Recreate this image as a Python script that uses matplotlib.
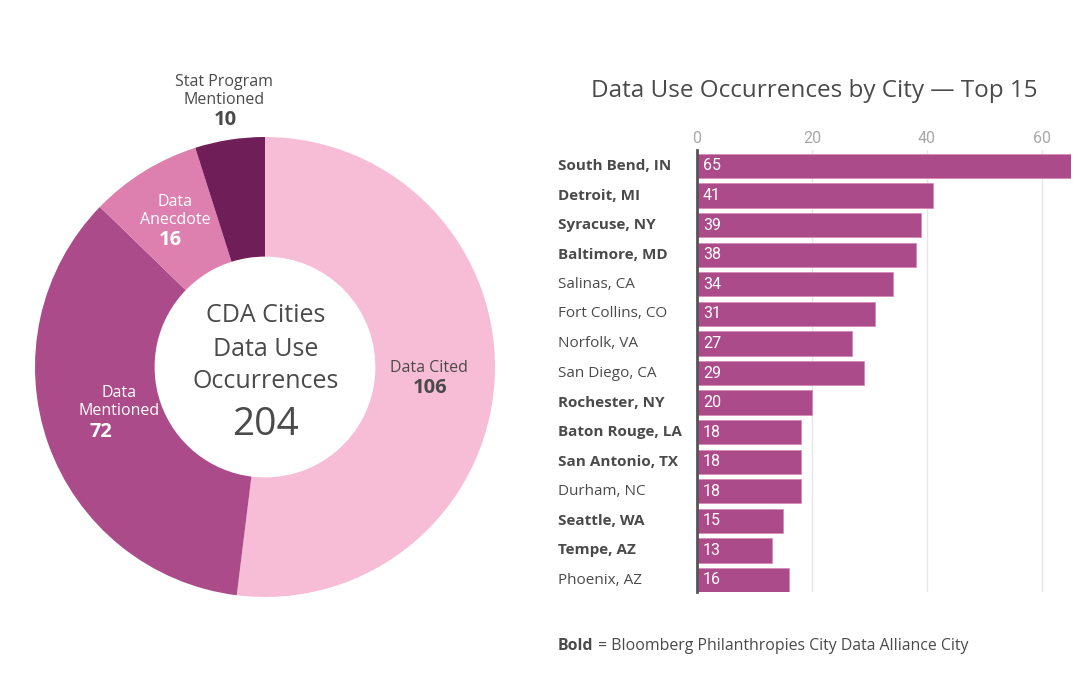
import matplotlib
matplotlib.use("Agg")
import matplotlib.pyplot as plt

# ---- data ----
donut_labels = ["Data Cited", "Data Mentioned", "Data Anecdote", "Stat Program Mentioned"]
donut_values = [106, 72, 16, 10]
donut_total = 204

cities = ["South Bend, IN", "Detroit, MI", "Syracuse, NY", "Baltimore, MD", "Salinas, CA",
          "Fort Collins, CO", "Norfolk, VA", "San Diego, CA", "Rochester, NY", "Baton Rouge, LA",
          "San Antonio, TX", "Durham, NC", "Seattle, WA", "Tempe, AZ", "Phoenix, AZ"]
city_values = [65, 41, 39, 38, 34, 31, 27, 29, 20, 18, 18, 18, 15, 13, 16]
cda_city = [True, True, True, True, False, False, False, False, True, True, True, False, True, True, False]
x_ticks = [0, 20, 40, 60]

FONT = "Open Sans"
TXT = "#4a4a4a"

fig = plt.figure(figsize=(10.8, 6.75), dpi=100)
W, H = 1080, 675

# ---- donut ----
cx, cy, R = 265, 367, 230
axd = fig.add_axes([(cx - R) / W, 1 - (cy + R) / H, 2 * R / W, 2 * R / H])
colors = ["#f7bdd6", "#ab4b89", "#dd80b0", "#701e57"]
axd.pie(donut_values, colors=colors, startangle=90, counterclock=False, radius=1,
        wedgeprops=dict(width=0.52, edgecolor="none"))
axd.set_xlim(-1, 1); axd.set_ylim(-1, 1)
axd.set_aspect("equal")
axd.axis("off")

def P(px, py):
    return (px - cx) / R, (cy - py) / R

def lab(px, py, s, size, color, weight="normal", ls=1.0):
    x, y = P(px, py)
    axd.text(x, y, s, ha="center", va="center", fontsize=size, color=color,
             fontweight=weight, family=FONT, clip_on=False, linespacing=ls)

lab(224, 91, "Stat Program\nMentioned", 11.5, TXT, ls=1.15)
lab(225, 120, str(donut_values[3]), 14.5, TXT, "bold")
lab(175, 211, "Data\nAnecdote", 11.5, "white", ls=1.15)
lab(170, 240, str(donut_values[2]), 14.5, "white", "bold")
lab(119, 402, "Data\nMentioned", 11.5, "white", ls=1.15)
lab(101, 432, str(donut_values[1]), 14.5, "white", "bold")
lab(429, 368, "Data Cited", 11.5, TXT)
lab(430, 388, str(donut_values[0]), 14.5, TXT, "bold")

for py, s in [(315, "CDA Cities"), (349, "Data Use"), (382, "Occurrences")]:
    lab(266, py, s, 18, TXT)
lab(266, 425, str(donut_total), 28, TXT)

# ---- bar chart ----
x0px, x60px = 697, 1042
ppu = (x60px - x0px) / 60
left_px = x0px
right_px = x0px + 65 * ppu
top_c, bot_c = 166, 580
pitch = (bot_c - top_c) / 14
ytop = -0.55
ybot = 14.42
top_px = top_c + ytop * pitch
bot_px = top_c + ybot * pitch
axb = fig.add_axes([left_px / W, 1 - bot_px / H, (right_px - left_px) / W, (bot_px - top_px) / H])
ypos = list(range(len(cities)))
axb.barh(ypos, city_values, height=0.82, color="#ab4b89", edgecolor="#d58ab8", linewidth=0.6, zorder=2)
axb.set_xlim(0, 65)
axb.set_ylim(ybot, ytop)
axb.set_xticks(x_ticks)
axb.xaxis.tick_top()
axb.tick_params(axis="x", length=0, pad=3, labelsize=11.5, labelcolor="#a8a8a8")
for t in axb.get_xticklabels():
    t.set_family("Roboto")
axb.grid(axis="x", color="#e6e6e6", linewidth=1, zorder=0)
axb.set_yticks([])
for s in ["top", "right", "bottom"]:
    axb.spines[s].set_visible(False)
axb.spines["left"].set_color("#555555")
axb.spines["left"].set_linewidth(2)
axb.spines["left"].set_zorder(3)
axb.set_axisbelow(True)

for i, (c, v, b) in enumerate(zip(cities, city_values, cda_city)):
    axb.text(1.0, i, str(v), ha="left", va="center", color="white", fontsize=11.5,
             family="Roboto", zorder=4)
    fig.text(558 / W, 1 - (top_c + i * pitch) / H, c, ha="left", va="center",
             fontsize=11, color=TXT, family=FONT, fontweight="bold" if b else "normal")

fig.text(814 / W, 1 - 91 / H, "Data Use Occurrences by City \u2014 Top 15", ha="center", va="center",
         fontsize=17.5, color=TXT, family=FONT)

t1 = fig.text(558 / W, 1 - 646 / H, "Bold", ha="left", va="center", fontsize=11.4,
              color=TXT, family=FONT, fontweight="bold")
fig.canvas.draw()
bb = t1.get_window_extent()
fig.text(bb.x1 / W, 1 - 646 / H, " = Bloomberg Philanthropies City Data Alliance City", ha="left",
         va="center", fontsize=11.4, color=TXT, family=FONT)

fig.savefig("out.png", dpi=100, facecolor="white")
